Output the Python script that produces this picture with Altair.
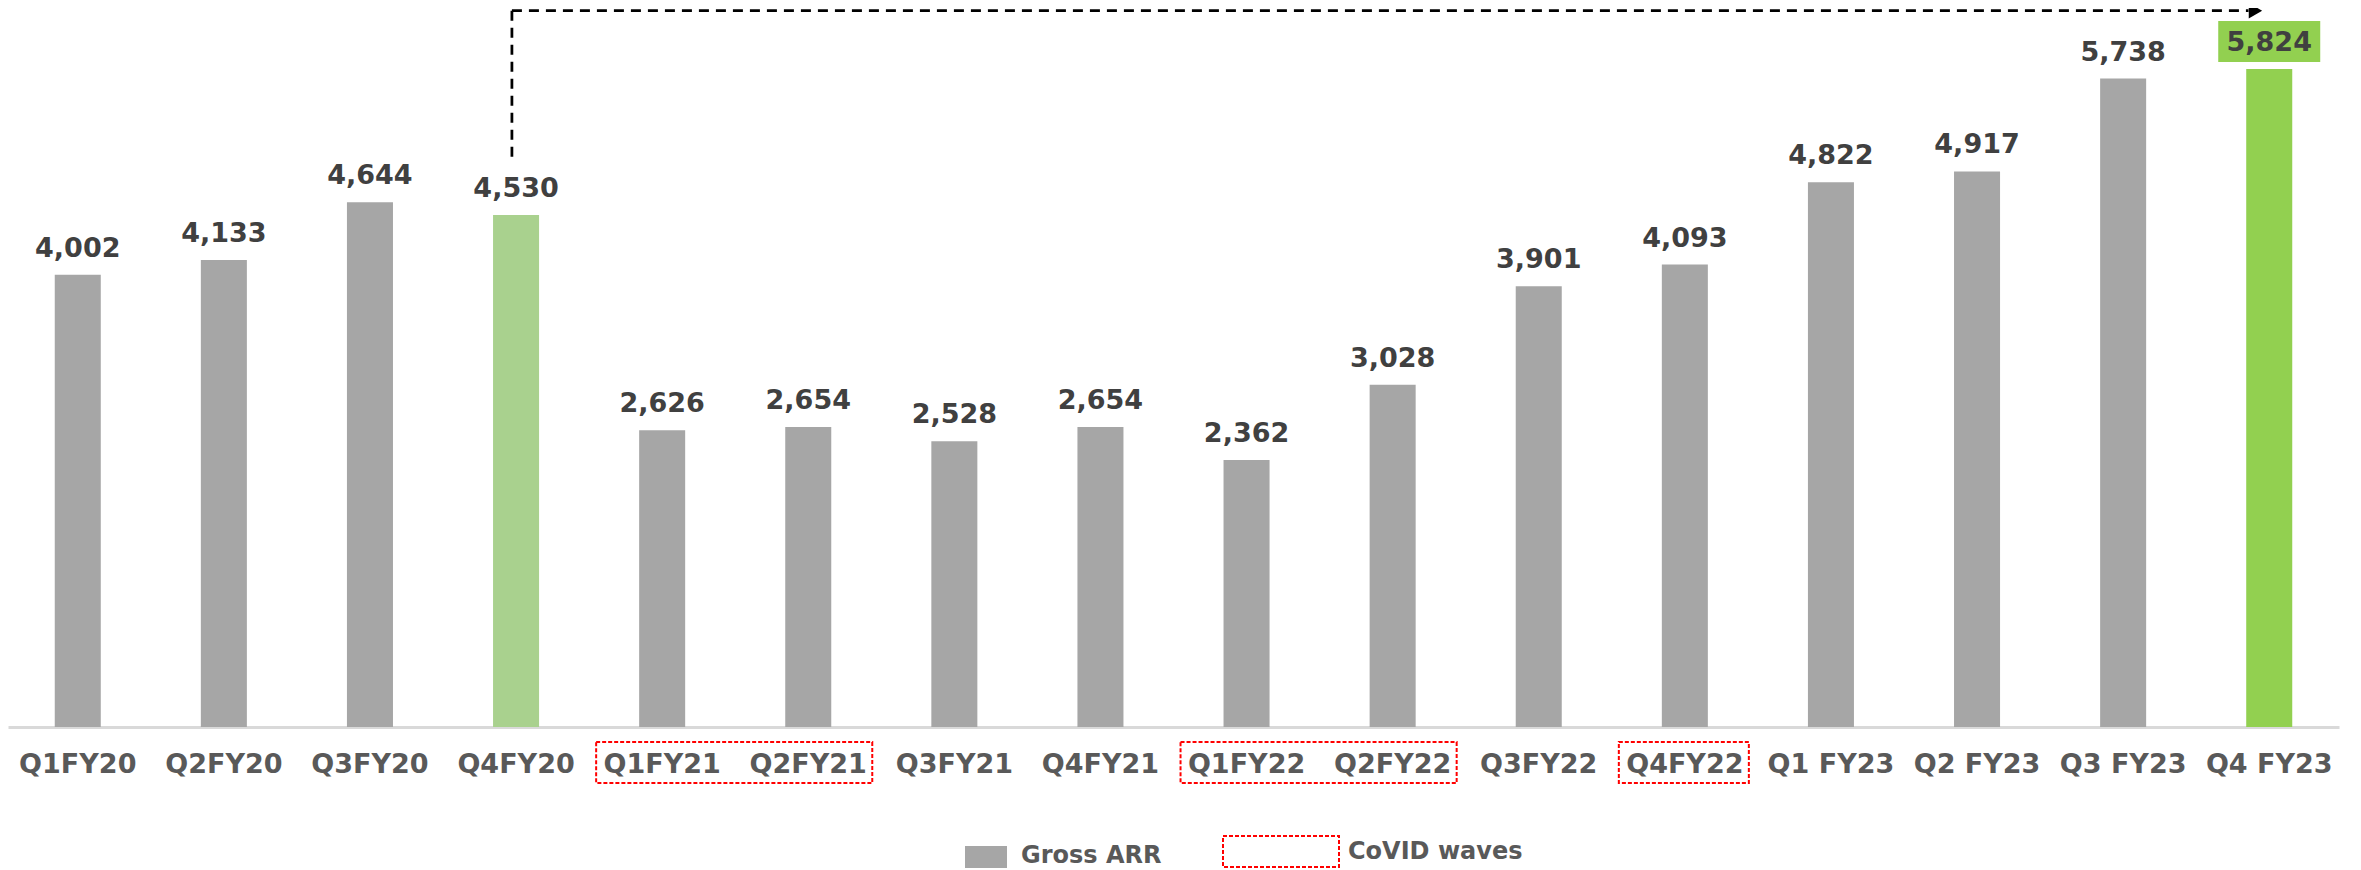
import altair as alt
import pandas as pd

# ---- data ----
quarters = ["Q1FY20", "Q2FY20", "Q3FY20", "Q4FY20", "Q1FY21", "Q2FY21", "Q3FY21", "Q4FY21",
            "Q1FY22", "Q2FY22", "Q3FY22", "Q4FY22", "Q1 FY23", "Q2 FY23", "Q3 FY23", "Q4 FY23"]
gross_arr = [4002, 4133, 4644, 4530, 2626, 2654, 2528, 2654,
             2362, 3028, 3901, 4093, 4822, 4917, 5738, 5824]
bar_colors = ["#a6a6a6"] * 3 + ["#a9d18e"] + ["#a6a6a6"] * 11 + ["#92d050"]
covid_start = ["Q1FY21", "Q1FY22", "Q4FY22"]
covid_end = ["Q2FY21", "Q2FY22", "Q4FY22"]
legend_labels = ["Gross ARR", "CoVID waves"]
arrow_from = "Q4FY20"
arrow_to = "Q4 FY23"
highlight = "Q4 FY23"

FONT = "DejaVu Sans"
W, H = 2331, 719
YMAX = 6363

df = pd.DataFrame({"quarter": quarters, "value": gross_arr, "color": bar_colors})
df_hl = df[df["quarter"] == highlight]
df_covid = pd.DataFrame({"start": covid_start, "end": covid_end})
df_arrow = pd.DataFrame({"src": [arrow_from], "dst": [arrow_to], "top": [6339], "bottom": [5035]})
df_leg1 = pd.DataFrame({"label": [legend_labels[0]]})
df_leg2 = pd.DataFrame({"label": [legend_labels[1]]})

xscale = alt.Scale(domain=quarters, paddingInner=0.685, paddingOuter=0.32)
yscale = alt.Scale(domain=[0, YMAX])

xaxis = alt.Axis(title=None, labelAngle=0, labelFont=FONT, labelFontSize=27,
                 labelFontWeight="bold", labelColor="#595959", ticks=False,
                 labelPadding=24, domainColor="#d9d9d9", domainWidth=3, grid=False)


def xenc(field, bp=0.5):
    return alt.X(f"{field}:N", scale=xscale, bandPosition=bp, axis=xaxis, title=None)


bars = alt.Chart(df).mark_bar().encode(
    x=alt.X("quarter:N", scale=xscale, axis=xaxis, title=None),
    y=alt.Y("value:Q", scale=yscale, axis=None),
    color=alt.Color("color:N", scale=None),
)

hl_box = alt.Chart(df_hl).mark_bar(color="#92d050", size=102).encode(
    x=alt.X("quarter:N", scale=xscale, axis=xaxis, title=None),
    y=alt.value(13), y2=alt.value(54),
)

labels = alt.Chart(df).mark_text(dy=-26, fontSize=27, fontWeight="bold", font=FONT,
                                 color="#404040", baseline="middle").encode(
    x=alt.X("quarter:N", scale=xscale, axis=xaxis, title=None),
    y=alt.Y("value:Q", scale=yscale, axis=None),
    text=alt.Text("value:Q", format=","),
)

arrow_v = alt.Chart(df_arrow).mark_rule(strokeDash=[10, 7], strokeWidth=2.75, color="black").encode(
    x=xenc("src", 0.41),
    y=alt.Y("top:Q", scale=yscale, axis=None),
    y2="bottom:Q",
)
arrow_h = alt.Chart(df_arrow).mark_rule(strokeDash=[10, 7], strokeWidth=2.75, color="black").encode(
    x=xenc("src", 0.41),
    x2=alt.X2("dst:N", bandPosition=0.05),
    y=alt.Y("top:Q", scale=yscale, axis=None),
)
arrow_head = alt.Chart(df_arrow).mark_point(shape="triangle-right", size=240, filled=True,
                                            color="black", opacity=1).encode(
    x=xenc("dst", 0.2),
    y=alt.Y("top:Q", scale=yscale, axis=None),
)

covid_boxes = alt.Chart(df_covid).mark_rect(fillOpacity=0, stroke="#ff0000", strokeDash=[4, 2],
                                            strokeWidth=2, xOffset=-43, x2Offset=41).encode(
    x=xenc("start", 0),
    x2=alt.X2("end:N", bandPosition=1),
    y=alt.value(734), y2=alt.value(775),
)

leg_swatch = alt.Chart(df_leg1).mark_rect(color="#a6a6a6").encode(
    x=alt.value(957), x2=alt.value(999), y=alt.value(838), y2=alt.value(860))
leg_text1 = alt.Chart(df_leg1).mark_text(align="left", baseline="middle", font=FONT, fontSize=24,
                                         fontWeight="bold", color="#595959").encode(
    x=alt.value(1013), y=alt.value(848), text="label:N")
leg_box = alt.Chart(df_leg2).mark_rect(fillOpacity=0, stroke="#ff0000", strokeDash=[4, 2],
                                       strokeWidth=2).encode(
    x=alt.value(1215), x2=alt.value(1331), y=alt.value(828), y2=alt.value(859))
leg_text2 = alt.Chart(df_leg2).mark_text(align="left", baseline="middle", font=FONT, fontSize=24,
                                         fontWeight="bold", color="#595959").encode(
    x=alt.value(1340), y=alt.value(844), text="label:N")

chart = alt.layer(
    bars, hl_box, labels, arrow_v, arrow_h, arrow_head, covid_boxes,
    leg_swatch, leg_text1, leg_box, leg_text2,
).properties(
    width=W, height=H,
    background="white",
    autosize=alt.AutoSizeParams(type="none"),
    padding={"left": 0, "top": 0, "right": 10, "bottom": 143},
).configure_view(strokeWidth=0)

chart.save("out.html", embed_options={"renderer": "svg", "actions": False})
